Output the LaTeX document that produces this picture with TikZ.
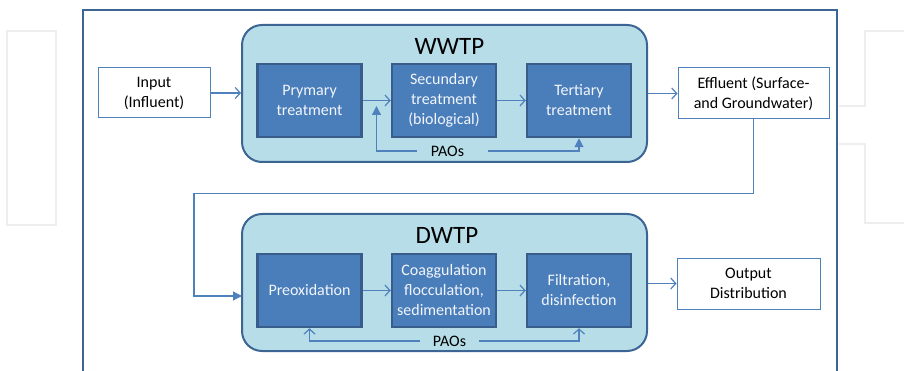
\documentclass[tikz,border=0pt]{standalone}
\usepackage{fontspec}
\setmainfont{Carlito}
\usetikzlibrary{arrows.meta}
\definecolor{frameblue}{HTML}{3D6594}
\definecolor{plantfill}{HTML}{B7DEE8}
\definecolor{procfill}{HTML}{4A7EBB}
\definecolor{procline}{HTML}{385D8A}
\definecolor{conn}{HTML}{4F81BD}
\definecolor{ghost}{HTML}{EEEEEE}
\definecolor{proctext}{HTML}{F2F5FA}
\tikzset{
  plant/.style={draw=frameblue, line width=2pt, fill=plantfill, rounded corners=20pt,
    minimum width=405pt, minimum height=137pt, inner sep=0pt},
  proc/.style={draw=procline, line width=2.5pt, fill=procfill, text=proctext,
    minimum width=104pt, minimum height=73pt, align=center, inner sep=0pt,
    font=\fontsize{16}{20}\selectfont},
  iobox/.style={draw=conn, line width=1pt, fill=white, align=center, inner sep=0pt,
    minimum height=51pt, font=\fontsize{16}{20}\selectfont},
  title/.style={font=\fontsize{25}{30}\selectfont, inner sep=0pt},
  paolbl/.style={font=\fontsize{16}{20}\selectfont, inner sep=0pt, minimum height=14pt},
  conline/.style={draw=conn, line width=1.2pt},
  openarrow/.style={conline, -{Straight Barb[length=5pt,width=11pt,line width=1.2pt]}},
  fillarrow/.style={conline, -{Triangle[length=9pt,width=9pt]}},
  ghostline/.style={draw=ghost, line width=2pt}
}
\begin{document}
\begin{tikzpicture}[x=1pt,y=-1pt]
\useasboundingbox (0,0) rectangle (904,371);
% faint background shapes
\draw[ghostline] (7,31) rectangle (56,225);
\draw[ghostline] (904,31) -- (865,31) -- (865,106) -- (839,106);
\draw[ghostline] (839,144) -- (865,144) -- (865,223) -- (904,223);
% outer frame
\draw[frameblue, line width=2pt] (82.5,375) -- (82.5,10) -- (837,10) -- (837,375);

% WWTP
\node[plant] (wwtp) at (444.5,93.5) {};
\node[title] (wwtpt) at (449.5,46) {WWTP};
\node[proc] (prim) at (309.5,100.5) {Prymary\\treatment};
\node[proc] (sec) at (444,100.5) {Secundary\\treatment\\(biological)};
\node[proc] (ter) at (579,100.5) {Tertiary\\treatment};
\node[iobox, minimum width=112pt, minimum height=50pt] (inp) at (154,93) {Input\\(Influent)};
\node[iobox, minimum width=151pt] (eff) at (753.5,93.5) {Effluent (Surface-\\and Groundwater)};
\node[paolbl, minimum width=71pt] (pao1) at (452.5,151) {PAOs\hspace*{10pt}};
\coordinate (pup) at (376.5,106);

\draw[openarrow] (inp.east) -- (inp.east -| wwtp.west);
\draw[openarrow] (prim.east) -- (sec.west);
\draw[openarrow] (sec.east) -- (ter.west);
\draw[openarrow] (wwtp.east |- eff.west) -- (eff.west);
\draw[fillarrow] (pao1.west) -| (pup);
\draw[fillarrow] (pao1.east) -| (ter.south);

% DWTP
\node[plant] (dwtp) at (444.5,282.5) {};
\node[title] (dwtpt) at (447,235) {DWTP};
\node[proc] (pre) at (309.5,290.5) {Preoxidation};
\node[proc] (coa) at (444,290.5) {Coaggulation\\flocculation,\\sedimentation};
\node[proc] (fil) at (579,290.5) {Filtration,\\disinfection};
\node[iobox, minimum width=143pt] (out) at (748.5,283.5) {Output\\Distribution};
\node[paolbl, minimum width=59pt] (pao2) at (449.5,341) {PAOs};
\coordinate (din) at (242,296);

\draw[fillarrow] (eff.south) |- (194,193.5) |- (din);
\draw[openarrow] (pre.east) -- (coa.west);
\draw[openarrow] (coa.east) -- (fil.west);
\draw[openarrow] (dwtp.east |- out.west) -- (out.west);
\draw[openarrow] (pao2.west) -| (pre.south);
\draw[openarrow] (pao2.east) -| (fil.south);
\end{tikzpicture}
\end{document}
